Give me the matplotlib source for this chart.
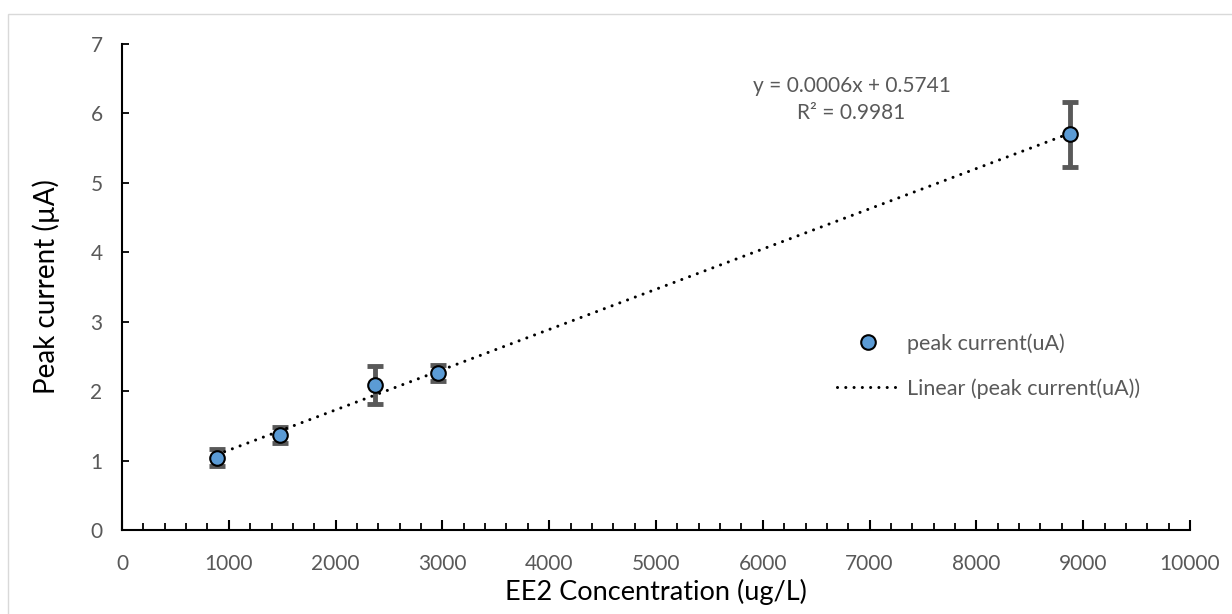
import numpy as np
import matplotlib
matplotlib.use("Agg")
import matplotlib.pyplot as plt
from matplotlib.patches import Rectangle
from matplotlib.ticker import MultipleLocator

plt.rcParams['font.family'] = ['Lato', 'DejaVu Sans']

# Data
concentration = [888, 1480, 2370, 2960, 8880]
peak_current = [1.04, 1.37, 2.09, 2.26, 5.70]
error = [0.12, 0.11, 0.27, 0.11, 0.47]
equation_text = "y = 0.0006x + 0.5741\nR² = 0.9981"
x_label = "EE2 Concentration (ug/L)"
y_label = "Peak current (µA)"
series_name = "peak current(uA)"
trend_name = "Linear (peak current(uA))"

W, H = 1232, 614
fig = plt.figure(figsize=(W / 100, H / 100), dpi=100)
fig.patch.set_facecolor('white')

# outer chart border
fig.patches.append(Rectangle((8 / W, -0.1), 1.2, 1 - 14 / H + 0.1,
                             transform=fig.transFigure, fill=False,
                             edgecolor='#d9d9d9', linewidth=1.0, clip_on=False))

ax = fig.add_axes([122 / W, 1 - 530 / H, (1190 - 122) / W, (530 - 44) / H])

gray = '#595959'
fs = 15

# Trend line from least-squares fit over data range
coef = np.polyfit(concentration, peak_current, 1)
xs = np.array([min(concentration), max(concentration)])
trend, = ax.plot(xs, np.polyval(coef, xs), color='black', linewidth=2.2,
                 linestyle=(0, (0.01, 2.7)), dash_capstyle='round', zorder=3,
                 label=trend_name)

# Error bars
ax.errorbar(concentration, peak_current, yerr=error, fmt='none',
            ecolor=gray, elinewidth=3.5, capsize=6, capthick=3.5, zorder=2)

# Data points
pts, = ax.plot(concentration, peak_current, linestyle='none', marker='o',
               markersize=10.5, markerfacecolor='#5B9BD5',
               markeredgecolor='black', markeredgewidth=1.5, zorder=4,
               label=series_name)

ax.set_xlim(0, 10000)
ax.set_ylim(0, 7)
ax.xaxis.set_major_locator(MultipleLocator(1000))
ax.xaxis.set_minor_locator(MultipleLocator(200))
ax.yaxis.set_major_locator(MultipleLocator(1))

for s in ['top', 'right']:
    ax.spines[s].set_visible(False)
for s in ['left', 'bottom']:
    ax.spines[s].set_linewidth(1.5)
    ax.spines[s].set_color('black')

ax.tick_params(axis='x', which='major', direction='in', length=7, width=1.5,
               labelsize=fs, labelcolor=gray, pad=17)
ax.tick_params(axis='x', which='minor', direction='in', length=5, width=1.3)
ax.tick_params(axis='y', which='major', direction='in', length=5, width=1.3,
               labelsize=fs, labelcolor=gray, pad=14)

ax.set_xlabel(x_label, fontsize=19.5, color='black', labelpad=4)
ax.set_ylabel(y_label, fontsize=20, color='black', labelpad=22)

ax.text(6830, 6.2, equation_text, fontsize=fs, color=gray,
        ha='center', va='center', linespacing=1.45)

leg = ax.legend(handles=[pts, trend], loc='center left',
                bbox_to_anchor=((826 - 122) / (1190 - 122), 1 - (366 - 44) / (530 - 44)),
                frameon=False, fontsize=15.5, labelcolor=gray,
                handlelength=2.9, handletextpad=0.35, labelspacing=1.15,
                borderpad=0)

fig.savefig('out.png', dpi=100, facecolor='white')
